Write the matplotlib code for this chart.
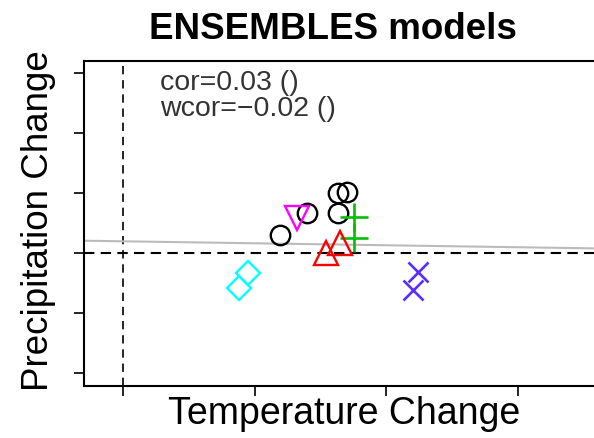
import matplotlib.pyplot as plt
import numpy as np

plt.rcParams['font.family'] = ['Liberation Sans', 'DejaVu Sans']

# model points (temperature change, precipitation change)
circle_x = [1.19, 1.40, 1.63, 1.70, 1.63]
circle_y = [0.30, 0.67, 1.00, 1.02, 0.67]
dtri_x = [1.32]
dtri_y = [0.58]
plus_x = [1.75, 1.75]
plus_y = [0.60, 0.25]
utri_x = [1.54, 1.65]
utri_y = [0.00, 0.17]
diam_x = [0.95, 0.88]
diam_y = [-0.33, -0.58]
cross_x = [2.24, 2.20]
cross_y = [-0.32, -0.62]

fit_slope = -0.033
fit_intercept = 0.195
cor_text = "cor=0.03 ()\nwcor=\u22120.02 ()"

fig = plt.figure(figsize=(5.94, 4.38), dpi=100)
ax = fig.add_axes([0.1414, 0.1187, 0.88, 0.742])

ax.axvline(0, color='black', ls=(0, (5, 3.5)), lw=1.2)
ax.axhline(0, color='black', ls=(0, (5, 3)), lw=1.5)

xs = np.array([-1, 4])
ax.plot(xs, fit_intercept + fit_slope * xs, color='#bbbbbb', lw=1.5)

ax.plot(circle_x, circle_y, 'o', ms=14, mfc='none', mec='black', mew=1.7)
ax.plot(dtri_x, dtri_y, 'v', ms=17, mfc='none', mec='#ff00ff', mew=1.7)
ax.plot(plus_x, plus_y, '+', ms=20, mec='#00c000', mew=1.9)
ax.plot(utri_x, utri_y, '^', ms=17, mfc='none', mec='#ff0000', mew=1.7)
ax.plot(diam_x, diam_y, 'D', ms=12.5, mfc='none', mec='#00ffff', mew=1.7)
ax.plot(cross_x, cross_y, 'x', ms=15, mec='#5a2cff', mew=1.9)

ax.set_xlim(-0.297, 3.673)
ax.set_ylim(-2.217, 3.2)
ax.set_xticks([0, 1, 2, 3])
ax.set_yticks([-2, -1, 0, 1, 2, 3])
ax.tick_params(length=7, width=1.2, labelbottom=False, labelleft=False)
for s in ax.spines.values():
    s.set_linewidth(1.5)

ax.text(0.28, 3.05, cor_text, fontsize=20.5, color='#333333', va='top', ha='left', linespacing=0.98)

fig.text(0.56, 0.932, 'ENSEMBLES models', fontsize=26.5, fontweight='bold', ha='center', va='center')
fig.text(0.58, 0.055, 'Temperature Change', fontsize=27, ha='center', va='center')
fig.text(0.064, 0.497, 'Precipitation Change', fontsize=26.5, ha='center', va='center', rotation=90)

fig.savefig('out.png', dpi=100)
